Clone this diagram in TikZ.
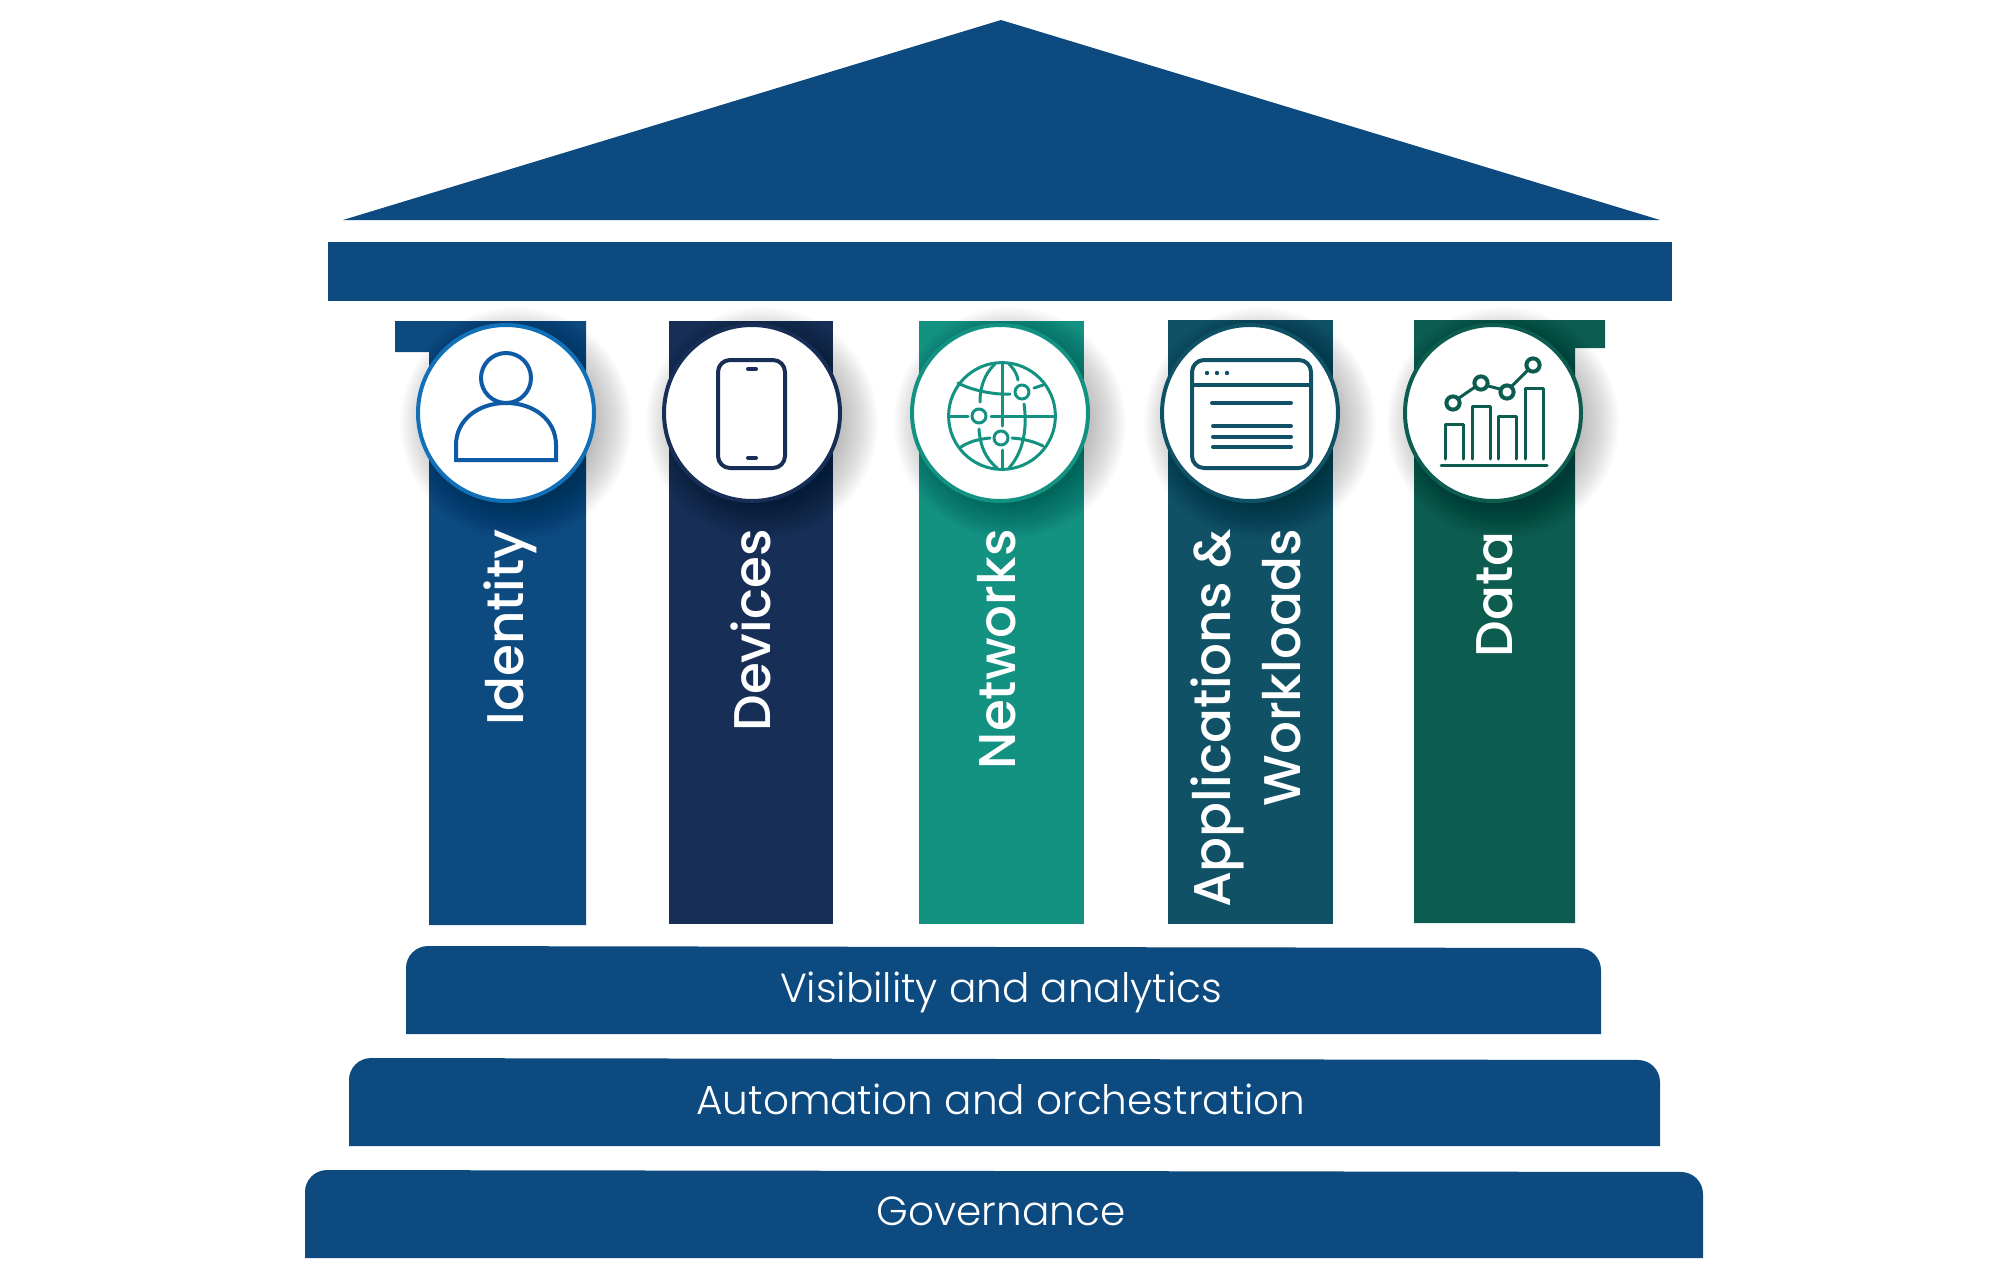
\documentclass[tikz,border=0pt]{standalone}
\usepackage{fontspec}
\setmainfont{Poppins}
\newfontfamily\lightfont{Poppins Light}
\newfontfamily\semifont{Poppins Medium}
\definecolor{templeblue}{HTML}{0D4A7F}
\definecolor{deviceblue}{HTML}{172E57}
\definecolor{netgreen}{HTML}{139282}
\definecolor{appteal}{HTML}{105166}
\definecolor{datagreen}{HTML}{0C5C50}
\definecolor{personblue}{HTML}{0F5AA6}
\definecolor{ringblue}{HTML}{1170B8}
\tikzset{
pillarlabel/.style={rotate=90,anchor=east,inner sep=0pt,text=white,font=\semifont\fontsize{25.8}{35}\selectfont,align=right},
steplabel/.style={text=white,font=\lightfont\fontsize{20.3}{24}\selectfont},
icon/.style={line width=2pt,line cap=round,line join=round}
}
\begin{document}
\begin{tikzpicture}[x=0.5pt,y=-0.5pt]
\useasboundingbox (0,0) rectangle (2008,1285);
% roof and beam
\fill[templeblue] (1001,20) -- (1660,220) -- (343,220) -- cycle;
\fill[templeblue] (328,242) rectangle (1672,301);
% pillars
\fill[templeblue] (395,321) -- (586,321) -- (586,925) -- (429,925) -- (429,352) -- (395,352) -- cycle;
\fill[deviceblue] (669,321) rectangle (833,924);
\fill[netgreen] (919,321) rectangle (1084,924);
\fill[appteal] (1168,320) rectangle (1333,924);
\fill[datagreen] (1414,320) -- (1605,320) -- (1605,348) -- (1575,348) -- (1575,923) -- (1414,923) -- cycle;
% steps
\fill[templeblue] (406,1034) [rounded corners=11pt] -- (406,946) -- (1601,948) [sharp corners] -- (1601,1034) -- cycle;
\fill[templeblue] (349,1146) [rounded corners=11pt] -- (349,1058) -- (1660,1060) [sharp corners] -- (1660,1146) -- cycle;
\fill[templeblue] (305,1258) [rounded corners=11pt] -- (305,1170) -- (1703,1172) [sharp corners] -- (1703,1258) -- cycle;
% medallions
\foreach \x/\c in {506/ringblue,752/deviceblue,1000/netgreen,1250/appteal,1493/datagreen}{
\foreach \r in {80,82,...,116}{
\fill[black,opacity=0.016] (\x+10,413+10) circle (\r*0.5pt);
}
\fill[white,draw=\c,line width=2pt] (\x,413) circle (44pt);
}
% identity icon
\draw[icon,personblue] (506,378) circle (12.5pt);
\draw[icon,personblue,line join=miter] (456,460) -- (456,445) .. controls (456,420) and (478,403) .. (506,403) .. controls (534,403) and (556,420) .. (556,445) -- (556,460) -- cycle;
% devices icon
\draw[icon,deviceblue,rounded corners=6pt] (718,360) rectangle (785,468);
\draw[icon,deviceblue] (748,369) -- (756,369);
\draw[icon,deviceblue] (748,458) -- (756,458);
% networks icon
\begin{scope}[icon,netgreen,line width=1.5pt]
\draw (1002,416) circle (26.7pt);
\draw (1022,392) circle (3.5pt);
\draw (979,416) circle (3.5pt);
\draw (1001,438) circle (3.5pt);
\draw (949,416) -- (968,416);
\draw (991,416) -- (1055,416);
\draw (1002,364) -- (1002,426);
\draw (1002,450) -- (1002,468);
\draw (958,383) .. controls (975,392) and (1000,395) .. (1010,394);
\draw (1034,388) -- (1043,385);
\draw (961,447) .. controls (970,441) and (980,439) .. (990,438);
\draw (1012,438) .. controls (1025,439) and (1035,442) .. (1043,446);
\draw (995,364) .. controls (983,375) and (980,390) .. (980,402);
\draw (979,429) .. controls (980,445) and (985,458) .. (997,468);
\draw (1009,364) .. controls (1013,368) and (1017,373) .. (1018,380);
\draw (1024,404) .. controls (1027,425) and (1025,450) .. (1009,468);
\end{scope}
% applications icon
\draw[icon,appteal,rounded corners=6pt] (1192,360) rectangle (1311,468);
\draw[icon,appteal] (1192,385) -- (1311,385);
\foreach \x in {1207,1217,1227}{
\fill[appteal] (\x,373) circle (1.1pt);
}
\draw[icon,appteal] (1212,403) -- (1291,403);
\foreach \y in {426,436.5,447}{
\draw[icon,appteal] (1213,\y) -- (1291,\y);
}
% data icon
\begin{scope}[icon,datagreen,line width=1.5pt]
\draw (1441,465) -- (1547,465);
\draw (1445,459) -- (1445,424) -- (1463,424) -- (1463,459);
\draw (1472,459) -- (1472,406) -- (1490,406) -- (1490,459);
\draw (1498,459) -- (1498,416) -- (1516,416) -- (1516,459);
\draw (1525,459) -- (1525,388) -- (1543,388) -- (1543,459);
\draw (1459,398) -- (1475,387);
\draw (1488,386) -- (1500,389);
\draw (1512,386) -- (1528,370);
\draw[line width=2pt] (1453,403) circle (3.3pt);
\draw[line width=2pt] (1481,383) circle (3.3pt);
\draw[line width=2pt] (1507,392) circle (3.3pt);
\draw[line width=2pt] (1533,365) circle (3.3pt);
\end{scope}
% labels
\node[pillarlabel] (identitylabel) at (510,529) {Identity};
\node[pillarlabel] (deviceslabel) at (751,529) {Devices};
\node[pillarlabel] (networkslabel) at (997,529) {Networks};
\node[pillarlabel] (appslabel) at (1246,529) {Applications \&\\Workloads};
\node[pillarlabel] (datalabel) at (1495,531) {Data};
\node[steplabel] (visibility) at (1001,992) {Visibility and analytics};
\node[steplabel] (automation) at (1001,1099) {Automation and orchestration};
\node[steplabel] (governance) at (1001,1211) {Governance};
\end{tikzpicture}
\end{document}
